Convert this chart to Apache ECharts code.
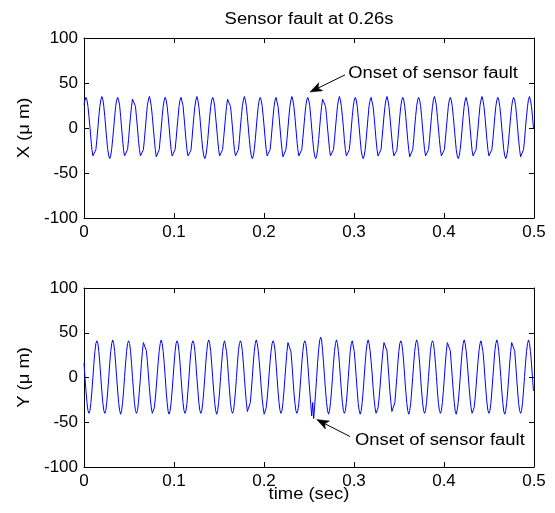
<!DOCTYPE html>
<html><head><meta charset="utf-8">
<script src="https://cdn.jsdelivr.net/npm/echarts@6/dist/echarts.min.js"></script>
<style>html,body{margin:0;padding:0;background:#fff}#c{width:555px;height:513px}</style>
</head><body><div id="c"></div>
<script>
// sample interval of the recorded signals (s)
const sampleInterval = 0.0011;

// X displacement (um)
const xValues = [26,31,
34,31,24,13,1,-12,-24,-31,-33,-31,-24,-13,0,13,24,31,
35,32,24,13,0,-13,-24,-31,-34,-31,-23,-12,0,13,24,31,
34,31,25,13,0,-13,-25,-31,-33,-30,-24,-13,1,13,24,32,
34,31,24,12,0,-13,-24,-31,-33,-31,-24,-13,0,13,25,31,
35,31,24,13,0,-12,-24,-32,-34,-31,-24,-12,0,13,24,31,
34,31,24,13,1,-13,-24,-31,-33,-31,-24,-13,0,12,24,31,
34,32,25,13,0,-13,-24,-31,-33,-31,-25,-13,0,13,24,31,
35,31,24,13,0,-13,-24,-31,-34,-31,-24,-13,0,13,24,31,
34,31,24,12,0,-12,-24,-31,-33,-31,-24,-12,0,13,24,32,
34,31,24,13,0,-13,-25,-31,-33,-30,-24,-13,1,13,25,31,
35,31,24,13,0,-13,-24,-31,-34,-31,-24,-13,0,13,24,31,
34,31,24,13,1,-12,-24,-31,-33,-31,-24,-13,0,13,24,31,
34,32,24,13,0,-13,-24,-32,-33,-31,-24,-13,0,13,24,31,
35,31,24,13,0,-13,-24,-31,-33,-31,-24,-12,0,13,24,31,
34,31,25,13,0,-13,-24,-31,-34,-31,-24,-13,0,13,24,32,
34,31,24,13,0,-12,-24,-31,-33,-31,-24,-13,0,12,24,31,
35,31,24,13,1,-13,-24,-31,-33,-30,-24,-13,0,13,24,31,
34,31,24,12,0,-13,-25,-31,-34,-31,-24,-13,0,13,25,31,
34,32,24,13,0,-13,-24,-31,-33,-31,-24,-12,0,13,24,31,
35,31,24,13,0,-12,-24,-31,-33,-31,-25,-13,0,13,24,31,
34,31,24,13,0,-13,-24,-32,-34,-31,-24,-13,1,13,24,31,
34,31,25,13,0,-13,-24,-31,-33,-31,-24,-13,0,13,24,32,
35,31,24,12,0,-13,-24,-31,-33,-30,-24,-13,0,12,24,31,
34,31,24,13,1,-12,-24,-31,-34,-31,-24,-13,0,13,24,31,
34,32,24,13,0,-13,-25,-31,-33,-31,-24,-12,0,13,25,31,
35,31,24,13,0,-13,-24,-31,-33,-31,-24,-13,0,13,24,31,
34,31,24,13,0,-12,-24,-31,-34,-31,-24,-13,0,13,24,31,
34,31,25,13,0,-13,-24,-32,-33,-31,-24,-13,1,13,24,32,
35,31,24,13,0];

// Y displacement (um) (fault near 0.25-0.26 s)
const yValues = [16,0,-15,-28,-37,-40,-37,-28,-15,0,16,29,38,
41,38,29,16,0,-15,-28,-37,-40,-37,-28,-15,0,16,29,38,
42,38,29,15,0,-15,-28,-37,-41,-37,-28,-15,1,16,29,38,
41,38,30,16,0,-15,-29,-37,-40,-37,-28,-14,0,16,29,39,
41,38,30,18,4,-11,-24,-34,-40,-40,-34,-24,-11,4,18,30,38,
42,38,29,16,1,-15,-28,-38,-41,-37,-28,-15,0,15,29,38,
41,38,29,16,0,-15,-28,-37,-40,-37,-29,-15,0,16,29,38,
41,38,30,16,0,-14,-28,-37,-40,-37,-28,-15,0,16,29,39,
42,38,29,15,0,-15,-28,-37,-41,-37,-28,-15,1,16,29,38,
41,39,29,16,0,-15,-29,-37,-40,-37,-28,-15,0,16,30,38,
41,38,29,16,0,-15,-28,-38,-40,-36,-28,-15,0,16,29,38,
42,38,30,18,4,-11,-24,-34,-41,-40,-34,-24,-11,4,18,30,38,
41,38,30,16,0,-15,-28,-37,-40,-37,-28,-15,0,15,29,39,
41,38,29,16,0,-16,-28,-37,-40,-37,-29,-15,0,16,29,38,
41,38,29,16,0,-15,-29,-43,-28,-46,-32,-16,0,17,31,41,
45,42,30,16,0,-15,-28,-37,-41,-37,-28,-15,0,16,29,38,
42,38,29,16,0,-15,-28,-37,-40,-37,-28,-15,1,16,30,38,
41,39,29,15,0,-15,-29,-37,-41,-37,-28,-15,0,16,29,38,
42,38,30,18,5,-11,-24,-34,-40,-40,-34,-24,-11,4,18,30,39,
41,38,30,16,0,-16,-28,-38,-40,-37,-28,-14,0,16,29,38,
41,38,29,16,0,-15,-28,-37,-41,-37,-29,-15,0,15,29,38,
42,39,29,16,0,-15,-28,-37,-40,-37,-28,-15,1,16,30,38,
41,38,29,16,1,-15,-29,-37,-40,-37,-28,-15,0,16,29,39,
41,38,30,15,0,-15,-28,-38,-41,-36,-28,-15,0,16,29,38,
42,38,30,18,4,-11,-24,-34,-40,-41,-34,-24,-11,4,18,30,38,
41,39,29,16,0,-15,-28,-37,-40,-37,-29,-15,0,15,30,38,
42,38,29,16,1,-15,-28,-38,-41,-37,-28,-15,0,16,29,39,
41,38,30,16,0,-15,-29,-37,-40,-37,-28,-14,1,16,29,38,
42,38,29,16,0,-15];

const xTicks = [0, 0.1, 0.2, 0.3, 0.4, 0.5];
const yTicks = [-100, -50, 0, 50, 100];
const titleText = 'Sensor fault at 0.26s';
const xName = 'time (sec)';
const yNames = ['X (\u03bc m)', 'Y (\u03bc m)'];
const annotationText = 'Onset of sensor fault';
// annotation arrow points in data coordinates [time, value]
const arrowTop = { head: [0.2511, 40], tail: [0.290, 59], text: [0.2935, 61] };
const arrowBottom = { head: [0.2586, -47], tail: [0.2956, -66], text: [0.3011, -71] };

const FONT = "'Liberation Sans', Arial, Helvetica, sans-serif";
const FS = 16;
const TICK_FS = 17;
const STRETCH = 1.15;

function pairs(vals) { return vals.map((v, i) => [+(i * sampleInterval).toFixed(4), v]); }

const chart = echarts.init(document.getElementById('c'), null, { renderer: 'canvas' });

function xAxis(gi, pos, showLabel) {
  return {
    type: 'value', gridIndex: gi, position: pos,
    min: xTicks[0], max: xTicks[xTicks.length - 1], interval: xTicks[1] - xTicks[0],
    axisLine: { show: true, onZero: false, lineStyle: { color: '#000', width: 1 } },
    axisTick: { show: true, inside: true, length: 5, lineStyle: { color: '#000', width: 1 } },
    axisLabel: { show: showLabel, color: '#000', fontSize: TICK_FS, fontFamily: FONT, margin: 6,
      formatter: v => String(+v.toFixed(1)) },
    splitLine: { show: false }
  };
}
function yAxis(gi, pos, showLabel) {
  return {
    type: 'value', gridIndex: gi, position: pos,
    min: yTicks[0], max: yTicks[yTicks.length - 1], interval: yTicks[1] - yTicks[0],
    axisLine: { show: true, onZero: false, lineStyle: { color: '#000', width: 1 } },
    axisTick: { show: true, inside: true, length: 5, lineStyle: { color: '#000', width: 1 } },
    axisLabel: { show: showLabel, color: '#000', fontSize: TICK_FS, fontFamily: FONT, margin: 6 },
    splitLine: { show: false }
  };
}

chart.setOption({
  animation: false,
  backgroundColor: '#fff',
  grid: [
    { left: 84, right: 21, top: 38, height: 180 },
    { left: 84, right: 21, top: 288, height: 179 }
  ],
  xAxis: [xAxis(0, 'bottom', true), xAxis(0, 'top', false), xAxis(1, 'bottom', true), xAxis(1, 'top', false)],
  yAxis: [yAxis(0, 'left', true), yAxis(0, 'right', false), yAxis(1, 'left', true), yAxis(1, 'right', false)],
  series: [
    { type: 'line', xAxisIndex: 0, yAxisIndex: 0, data: pairs(xValues), showSymbol: false, symbol: 'none',
      lineStyle: { color: '#0000ff', width: 1 }, silent: true },
    { type: 'line', xAxisIndex: 2, yAxisIndex: 2, data: pairs(yValues), showSymbol: false, symbol: 'none',
      lineStyle: { color: '#0000ff', width: 1 }, silent: true }
  ]
});

function textEl(x, y, text, align, rot) {
  return { type: 'text', x: x, y: y, rotation: rot || 0, scaleX: STRETCH, scaleY: 1,
    style: { text: text, font: FS + 'px ' + FONT, fill: '#000',
      textAlign: align, textVerticalAlign: 'middle', align: align, verticalAlign: 'middle' } };
}

function arrowGraphics(gi, a) {
  const h = chart.convertToPixel({ gridIndex: gi }, a.head);
  const t = chart.convertToPixel({ gridIndex: gi }, a.tail);
  const p = chart.convertToPixel({ gridIndex: gi }, a.text);
  const dx = h[0] - t[0], dy = h[1] - t[1];
  const L = Math.hypot(dx, dy), ux = dx / L, uy = dy / L, nx = -uy, ny = ux;
  const len = 12, hw = 4.5, back = 9;
  const b1 = [h[0] - ux * len + nx * hw, h[1] - uy * len + ny * hw];
  const b2 = [h[0] - ux * len - nx * hw, h[1] - uy * len - ny * hw];
  const inner = [h[0] - ux * back, h[1] - uy * back];
  return [
    { type: 'line', shape: { x1: t[0], y1: t[1], x2: inner[0], y2: inner[1] }, style: { stroke: '#000', lineWidth: 1 } },
    { type: 'polygon', shape: { points: [h, b1, inner, b2] }, style: { fill: '#000', stroke: '#000', lineWidth: 0.5 } },
    textEl(p[0], p[1], annotationText, 'left')
  ];
}

const topMid = chart.convertToPixel({ gridIndex: 0 }, [0.25, 0]);
const botMid = chart.convertToPixel({ gridIndex: 1 }, [0.25, 0]);

chart.setOption({
  graphic: [
    textEl(topMid[0], 20, titleText, 'center'),
    textEl(25, topMid[1], yNames[0], 'center', Math.PI / 2),
    textEl(25, botMid[1], yNames[1], 'center', Math.PI / 2),
    textEl(botMid[0], 495, xName, 'center'),
    ...arrowGraphics(0, arrowTop),
    ...arrowGraphics(1, arrowBottom)
  ]
});
</script>
</body></html>
